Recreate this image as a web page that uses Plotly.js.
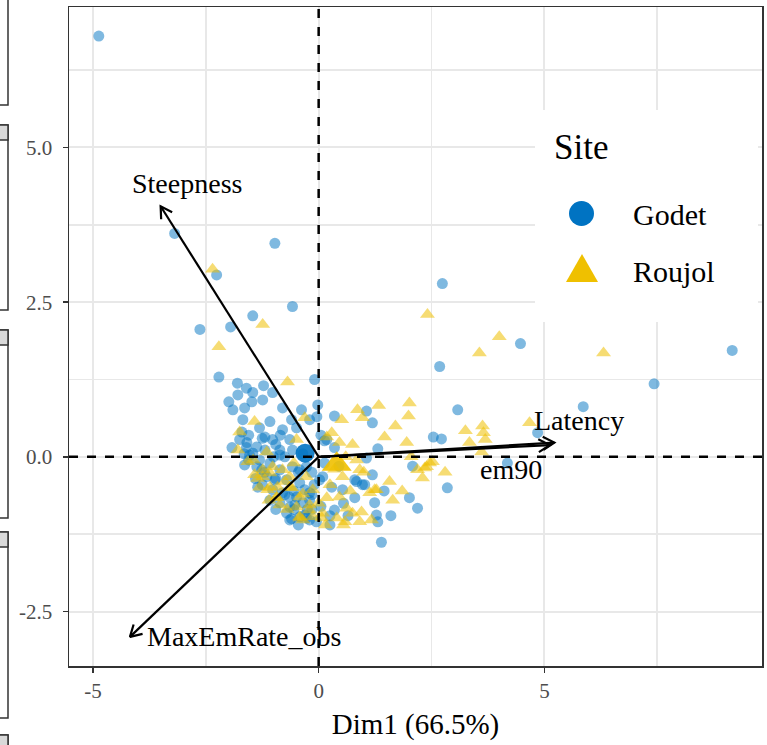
<!DOCTYPE html>
<html>
<head>
<meta charset="utf-8">
<script src="https://cdn.plot.ly/plotly-3.0.1.min.js"></script>
<style>html,body{margin:0;padding:0;background:#fff;}#chart{width:767px;height:745px;}</style>
</head>
<body>
<div id="chart"></div>
<script>
// ---------------- DATA ----------------
const godetX = [-4.87,-3.19,-0.97,-2.26,-2.63,-0.58,-1.46,-1.95,2.74,4.47,9.16,7.43,2.68,3.08,5.86,2.54,2.72,4.18,2.85,1.39,
  -0.09,-2.21,-1.80,-1.60,-1.46,-1.99,-1.79,-1.48,-1.90,-1.64,-1.24,-1.02,-0.80,-0.38,-0.02,-1.68,-1.08,-1.31,-1.70,-0.80,
  -0.49,-1.02,-0.64,-1.37,-1.59,-1.46,-1.19,-0.86,-0.58,-1.31,-1.08,-1.37,-0.86,-0.58,-0.27,-1.15,-0.71,-0.42,-1.02,-0.80,
  -0.49,-0.20,-0.64,-0.35,-0.86,-0.42,-0.20,-0.71,0.09,0.18,-0.04,1.06,1.19,0.35,4.85,2.08,1.19,0.80,0.97,2.01,
  0.13,0.35,1.31,1.06,0.02,0.84,1.02,0.29,0.53,2.19,0.80,1.24,0.35,1.28,1.31,-0.27,-0.20,-0.31,-0.20,0.13,
  -1.22,-1.25,-0.95,-1.55,-1.65,-0.55,-0.15,-0.60,0.05,
  -1.55,-1.25,-0.95,-0.75,-1.00,-1.20,-0.45,-0.35,-0.15,-0.65,-0.95,-0.55,-0.25,-0.05,-0.45,0.25,0.55,0.65,-1.40,-1.60,
  -0.85,-0.60,0.05,-0.10,0.45,1.45,1.60,0.25,
  -1.75,-1.53,-1.26,-0.97,-0.75,-0.53,-0.31,-0.64,-1.08,-1.35,-1.64,-1.92,-0.42,-0.15,-0.86,-1.19];
const godetY = [6.80,3.61,3.45,2.94,2.06,2.43,2.28,2.10,2.80,1.83,1.72,1.18,1.46,0.76,0.81,0.32,0.29,-0.10,-0.50,-1.38,
  1.25,1.29,1.19,1.11,1.04,0.89,1.00,0.89,0.76,0.79,0.92,1.04,0.79,0.76,0.84,0.60,0.57,0.47,0.40,0.44,
  0.47,0.28,0.28,0.16,0.23,0.06,0.11,0.11,0.11,-0.05,-0.10,-0.16,-0.21,-0.16,-0.16,-0.32,-0.37,-0.42,-0.53,-0.58,
  -0.65,-0.58,-0.81,-0.74,-0.74,-0.97,-1.02,-0.91,-0.32,0.28,0.65,0.74,0.55,0.66,0.39,-0.15,-0.29,-0.37,-0.45,-0.66,
  0.26,0.15,0.13,-0.02,-0.37,-0.40,-0.45,-0.49,-0.53,-0.83,-0.66,-0.74,-0.86,-0.94,-1.05,-0.99,-0.70,-0.53,0.60,-0.10,
  1.15,-0.45,-0.35,-0.05,0.05,-0.55,-0.85,-1.00,-0.80,
  0.35,0.30,0.20,0.00,0.00,-0.25,-0.25,0.05,-0.25,-0.65,-0.85,-0.85,-0.85,-1.05,-1.10,-0.95,-0.75,-0.95,-0.35,0.15,
  0.35,0.60,0.35,-0.45,-0.15,-0.55,-0.95,-1.10,
  0.28,0.03,-0.21,-0.37,-0.61,-0.78,-0.94,-1.02,-0.70,-0.49,-0.13,0.15,-0.21,-0.61,0.03,0.32];
const roujolX = [-2.35,-1.24,-2.21,-0.69,2.41,4.00,3.56,6.31,2.01,1.99,1.33,0.86,0.51,0.97,1.46,1.95,3.25,3.63,3.65,3.69,
  4.67,3.34,3.61,2.19,2.30,2.46,1.57,1.24,1.64,-1.42,-1.75,-1.15,-0.49,-0.31,-1.02,-0.80,-1.24,-1.08,-0.27,-0.64,
  -0.49,-0.93,-0.13,0.18,-0.35,0.29,0.46,0.84,0.91,2.35,2.52,0.53,0.18,1.28,1.13,0.62,0.75,0.95,0.40,0.58,
  1.17,0.07,-0.20,-0.13,0.46,0.91,2.39,-0.42,0.09,-1.08,-0.91,-0.64,-0.42,-0.93,-1.31,-1.24,
  -1.45,-1.35,-0.75,-0.55,-0.35,0.00,0.25,0.70,1.00,0.15,0.55,-0.70,-1.10,0.75,1.70,2.05,2.80,1.85,0.35,0.60,
  -1.42,-1.13,-0.86,-1.57,-0.60,-0.20,-0.42,-1.79];
const roujolY = [3.03,2.14,1.78,1.21,2.30,1.94,1.68,1.68,0.87,0.66,0.83,0.76,0.60,0.63,0.32,0.23,0.42,0.50,0.39,0.28,
  0.55,0.23,0.08,-0.21,-0.34,-0.10,-0.40,-0.53,-0.70,0.57,0.40,0.08,0.28,0.63,-0.16,-0.21,-0.21,-0.49,-0.32,-0.49,
  -0.81,-0.65,-0.97,0.32,-1.02,0.39,0.23,-0.05,-0.21,-0.18,-0.08,-0.32,-0.66,-0.53,-0.58,-0.83,-0.91,-0.89,-0.99,-1.05,
  -1.02,-0.99,-0.86,-0.53,-0.65,-1.05,-0.16,-0.97,-0.91,-0.26,-0.49,-0.32,-0.65,-0.66,-0.49,-0.32,
  -0.05,-0.35,-0.40,-0.10,-0.60,-0.75,-0.45,-0.55,-0.25,-1.10,-1.10,-0.85,-0.70,0.20,0.50,0.00,-0.25,-0.55,-0.20,0.00,
  -0.29,-0.53,-0.78,-0.08,-0.50,-0.78,-0.99,0.11];
const groupNames = ['Godet','Roujol'];
const centroidX = [-0.30, 0.40];
const centroidY = [0.06, -0.12];
const varNames = ['Steepness','MaxEmRate_obs','Latency','em90'];
const varX = [-3.50,-4.18,5.22,5.12];
const varY = [4.05,-2.91,0.23,0.19];
const varLabelX = [-2.92,-1.46,5.77,4.25];
const varLabelY = [4.42,-2.90,0.58,-0.21];
const xTickVals = [-5,0,5];
const xTickText = ['-5','0','5'];
const yTickVals = [-2.5,0,2.5,5];
const yTickText = ['-2.5','0.0','2.5','5.0'];
const xTitle = 'Dim1 (66.5%)';
const legendTitle = 'Site';

// ---------------- LAYOUT CONSTANTS ----------------
const W = 767, H = 745;
const M = {l:69, r:5, t:7, b:79};
const xRange = [-5.53, 9.82], yRange = [-3.38, 7.27];
const plotW = W - M.l - M.r, plotH = H - M.t - M.b;
const sx = plotW/(xRange[1]-xRange[0]), sy = plotH/(yRange[1]-yRange[0]);
const BLUE = '#0073C2', YELLOW = '#EFC000';
const FONT = 'Liberation Serif, Times New Roman, serif';
const px2x = p => (p - M.l)/plotW;
const py2y = p => (H - M.b - p)/plotH;

// ---------------- TRACES ----------------
const traces = [];
traces.push({x:godetX, y:godetY, type:'scatter', mode:'markers', name:groupNames[0], showlegend:false,
  marker:{symbol:'circle', size:11, color:BLUE, opacity:0.5, line:{width:0}}, hoverinfo:'skip'});
traces.push({x:roujolX, y:roujolY, type:'scatter', mode:'markers', name:groupNames[1], showlegend:false,
  marker:{symbol:'triangle-up', size:13, color:YELLOW, opacity:0.55, line:{width:0}}, hoverinfo:'skip'});
traces.push({x:[centroidX[0]], y:[centroidY[0]], type:'scatter', mode:'markers', showlegend:false,
  marker:{symbol:'circle', size:19, color:BLUE, opacity:0.9, line:{width:0}}, hoverinfo:'skip'});
traces.push({x:[centroidX[1]], y:[centroidY[1]], type:'scatter', mode:'markers', showlegend:false,
  marker:{symbol:'triangle-up', size:26, color:YELLOW, opacity:0.9, line:{width:0}}, hoverinfo:'skip'});

function arrowTrace(x, y){
  const px = x*sx, py = y*sy;
  const ang = Math.atan2(py, px);
  const L = 13, a = Math.PI/6;
  const w1x = px - L*Math.cos(ang - a), w1y = py - L*Math.sin(ang - a);
  const w2x = px - L*Math.cos(ang + a), w2y = py - L*Math.sin(ang + a);
  return {x:[0, x, null, w1x/sx, x, w2x/sx], y:[0, y, null, w1y/sy, y, w2y/sy],
    type:'scatter', mode:'lines', showlegend:false, hoverinfo:'skip',
    line:{color:'#000', width:2.2}};
}
for (let i = 0; i < varNames.length; i++) traces.push(arrowTrace(varX[i], varY[i]));

// ---------------- SHAPES ----------------
const shapes = [
  {type:'line', xref:'x', yref:'paper', x0:0, x1:0, y0:0, y1:1, line:{color:'#000', width:2.5, dash:'dash'}, layer:'above'},
  {type:'line', xref:'paper', yref:'y', x0:0, x1:1, y0:0, y1:0, line:{color:'#000', width:2.5, dash:'dash'}, layer:'above'},
  // legend background
  {type:'rect', xref:'paper', yref:'paper', x0:px2x(535), x1:px2x(758), y0:py2y(322), y1:py2y(110),
    fillcolor:'#fff', line:{width:0}, layer:'above'},
  // legend keys
  {type:'circle', xref:'paper', yref:'paper', x0:px2x(569), x1:px2x(594), y0:py2y(226), y1:py2y(201),
    fillcolor:BLUE, line:{width:0}, layer:'above'},
  {type:'path', xref:'paper', yref:'paper',
    path:`M ${px2x(566)} ${py2y(282)} L ${px2x(598)} ${py2y(282)} L ${px2x(582)} ${py2y(254)} Z`,
    fillcolor:YELLOW, line:{width:0}, layer:'above'}
];
// fragments of neighbouring panels at the left edge
const fragTops = [-10,125,330,532,735];
const fragBots = [105,310,518,718,760];
for (let i = 0; i < fragTops.length; i++) {
  shapes.push({type:'rect', xref:'paper', yref:'paper', x0:px2x(-20), x1:px2x(8), y0:py2y(fragBots[i]), y1:py2y(fragTops[i]),
    fillcolor:'#fff', line:{color:'#333', width:1.5}, layer:'above'});
  if (i > 0) shapes.push({type:'rect', xref:'paper', yref:'paper', x0:px2x(-20), x1:px2x(8),
    y0:py2y(fragTops[i]+15), y1:py2y(fragTops[i]), fillcolor:'#d9d9d9', line:{color:'#333', width:1.5}, layer:'above'});
}

// ---------------- ANNOTATIONS ----------------
const annotations = [];
const labelAnchors = ['center','left','center','center'];
for (let i = 0; i < varNames.length; i++) {
  annotations.push({x: labelAnchors[i]==='left' ? varX[i]+0.33 : varLabelX[i], y:varLabelY[i], xref:'x', yref:'y',
    text:varNames[i], showarrow:false, xanchor:labelAnchors[i], yanchor:'middle',
    font:{family:FONT, size:28, color:'#000'}});
}
annotations.push({x:px2x(552), y:py2y(147), xref:'paper', yref:'paper', text:legendTitle, showarrow:false,
  xanchor:'left', yanchor:'middle', font:{family:FONT, size:35, color:'#000'}});
annotations.push({x:px2x(631), y:py2y(214), xref:'paper', yref:'paper', text:groupNames[0], showarrow:false,
  xanchor:'left', yanchor:'middle', font:{family:FONT, size:30, color:'#000'}});
annotations.push({x:px2x(631), y:py2y(271), xref:'paper', yref:'paper', text:groupNames[1], showarrow:false,
  xanchor:'left', yanchor:'middle', font:{family:FONT, size:30, color:'#000'}});

// ---------------- LAYOUT ----------------
const GRID = '#e8e8e8';
const axisCommon = {showline:true, mirror:true, linecolor:'#333', linewidth:1.5, ticks:'outside', ticklen:5,
  tickwidth:1.5, tickcolor:'#333', zeroline:false, showgrid:true, gridcolor:GRID, gridwidth:2,
  tickfont:{family:FONT, size:21, color:'#4d4d4d'}, tickmode:'array'};
const layout = {
  width:W, height:H, margin:M, paper_bgcolor:'#fff', plot_bgcolor:'#fff', showlegend:false,
  font:{family:FONT},
  xaxis:Object.assign({}, axisCommon, {range:xRange, tickvals:xTickVals, ticktext:xTickText,
    minor:{tickvals:[-2.5,2.5,7.5], showgrid:true, gridcolor:GRID, gridwidth:1.6, ticks:''},
    title:{text:xTitle, font:{family:FONT, size:29, color:'#000'}, standoff:12}}),
  yaxis:Object.assign({}, axisCommon, {range:yRange, tickvals:yTickVals, ticktext:yTickText,
    minor:{tickvals:[-1.25,1.25,3.75,6.25], showgrid:true, gridcolor:GRID, gridwidth:1.6, ticks:''},
    ticklabelstandoff:6}),
  shapes:shapes, annotations:annotations
};
Plotly.newPlot('chart', traces, layout, {staticPlot:true, displayModeBar:false});
</script>
</body>
</html>
